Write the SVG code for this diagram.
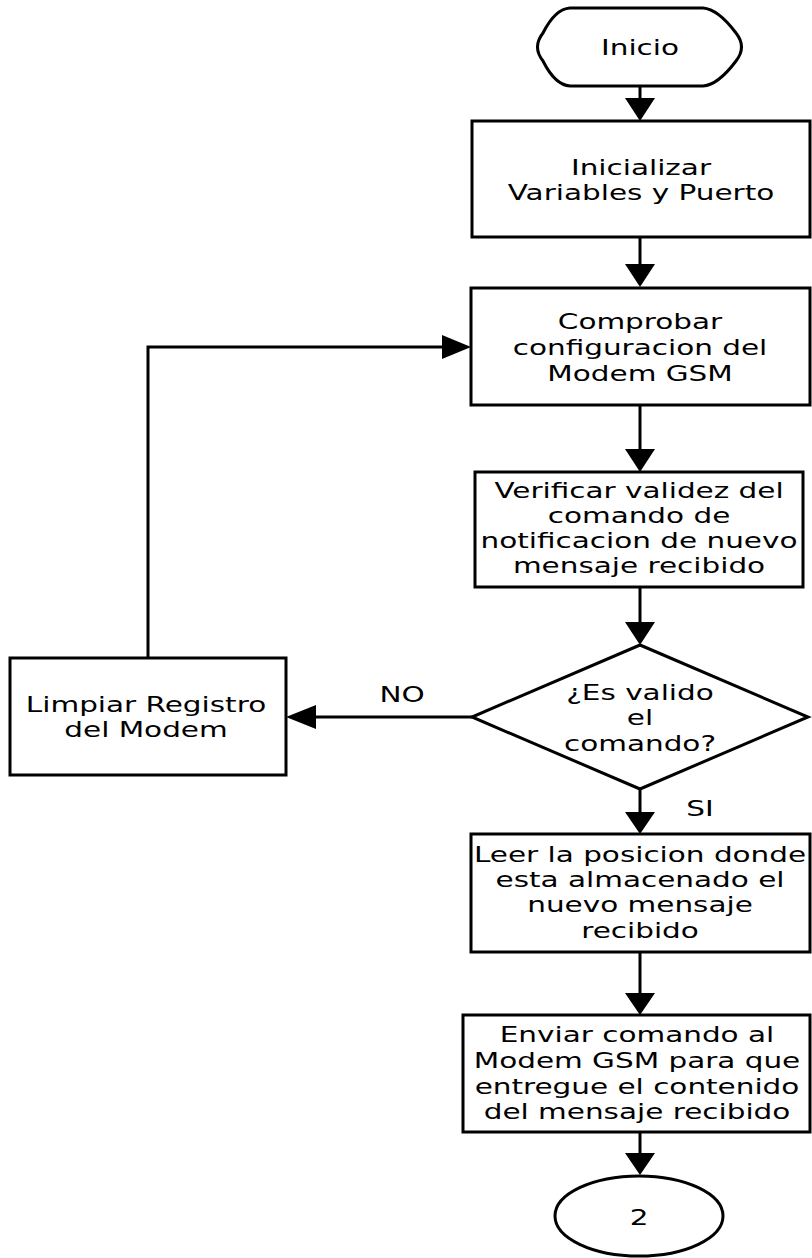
<svg xmlns="http://www.w3.org/2000/svg" width="812" height="1258" viewBox="0 0 812 1258">
  <style>
    .shape { fill: #ffffff; stroke: #000000; stroke-width: 3; }
    .wire { fill: none; stroke: #000000; stroke-width: 3; }
    .head { fill: #000000; stroke: none; }
    .lbl { font-family: "DejaVu Sans", "Liberation Sans", sans-serif; font-size: 22px; fill: #000000; text-anchor: middle; }
  </style>
  <rect x="0" y="0" width="812" height="1258" fill="#ffffff"/>

  <!-- connectors -->
  <g id="connectors">
    <!-- Inicio -> Inicializar -->
    <line class="wire" x1="640" y1="86" x2="640" y2="100"/>
    <polygon class="head" points="625,98 655,98 640,121"/>
    <!-- Inicializar -> Comprobar -->
    <line class="wire" x1="640" y1="237" x2="640" y2="266"/>
    <polygon class="head" points="625,264 655,264 640,287"/>
    <!-- Comprobar -> Verificar -->
    <line class="wire" x1="640" y1="405" x2="640" y2="451"/>
    <polygon class="head" points="625,449 655,449 640,472"/>
    <!-- Verificar -> decision -->
    <line class="wire" x1="640" y1="587" x2="640" y2="625"/>
    <polygon class="head" points="625,622 655,622 640,645"/>
    <!-- decision -> Limpiar (NO) -->
    <line class="wire" x1="472" y1="717" x2="312" y2="717"/>
    <polygon class="head" points="316,705 316,729 286,717"/>
    <!-- Limpiar -> Comprobar (loop back) -->
    <polyline class="wire" points="148,658 148,347 446,347"/>
    <polygon class="head" points="442,335 442,359 471,347"/>
    <!-- decision -> Leer (SI) -->
    <line class="wire" x1="640" y1="789" x2="640" y2="814"/>
    <polygon class="head" points="625,812 655,812 640,834"/>
    <!-- Leer -> Enviar -->
    <line class="wire" x1="640" y1="952" x2="640" y2="995"/>
    <polygon class="head" points="625,993 655,993 640,1015"/>
    <!-- Enviar -> connector 2 -->
    <line class="wire" x1="640" y1="1132" x2="640" y2="1155"/>
    <polygon class="head" points="625,1153 655,1153 640,1175"/>

    <text class="lbl" transform="translate(402,702) scale(1.34,1)">NO</text>
    <text class="lbl" transform="translate(700,816) scale(1.34,1)">SI</text>
  </g>

  <!-- start terminal -->
  <g id="inicio">
    <path class="shape" d="M570,8 H703 Q718,9 736,33 Q747,47 736,61 Q718,85 703,86 H570 Q555,85 543,61 Q532,47 543,33 Q555,9 570,8 Z"/>
    <text class="lbl" transform="translate(640,55) scale(1.34,1)">Inicio</text>
  </g>

  <g id="inicializar">
    <rect class="shape" x="472" y="121" width="338" height="116"/>
    <text class="lbl" transform="translate(641,175) scale(1.34,1)">Inicializar</text>
    <text class="lbl" transform="translate(641,200) scale(1.34,1)">Variables y Puerto</text>
  </g>

  <g id="comprobar">
    <rect class="shape" x="471" y="288" width="339" height="117"/>
    <text class="lbl" transform="translate(640,329) scale(1.34,1)">Comprobar</text>
    <text class="lbl" transform="translate(640,355) scale(1.34,1)">configuracion del</text>
    <text class="lbl" transform="translate(640,381) scale(1.34,1)">Modem GSM</text>
  </g>

  <g id="verificar">
    <rect class="shape" x="475" y="472" width="328" height="115"/>
    <text class="lbl" transform="translate(639,498) scale(1.34,1)">Verificar validez del</text>
    <text class="lbl" transform="translate(639,523) scale(1.34,1)">comando de</text>
    <text class="lbl" transform="translate(639,548) scale(1.34,1)">notificacion de nuevo</text>
    <text class="lbl" transform="translate(639,573) scale(1.34,1)">mensaje recibido</text>
  </g>

  <g id="decision">
    <polygon class="shape" points="640,645 808,717 640,789 472,717"/>
    <text class="lbl" transform="translate(640,700) scale(1.34,1)">¿Es valido</text>
    <text class="lbl" transform="translate(640,725) scale(1.34,1)">el</text>
    <text class="lbl" transform="translate(640,751) scale(1.34,1)">comando?</text>
  </g>

  <g id="limpiar">
    <rect class="shape" x="10" y="658" width="276" height="117"/>
    <text class="lbl" transform="translate(146,712) scale(1.34,1)">Limpiar Registro</text>
    <text class="lbl" transform="translate(146,737) scale(1.34,1)">del Modem</text>
  </g>

  <g id="leer">
    <rect class="shape" x="471" y="834" width="339" height="118"/>
    <text class="lbl" transform="translate(640,862) scale(1.34,1)">Leer la posicion donde</text>
    <text class="lbl" transform="translate(640,887) scale(1.34,1)">esta almacenado el</text>
    <text class="lbl" transform="translate(640,912) scale(1.34,1)">nuevo mensaje</text>
    <text class="lbl" transform="translate(640,938) scale(1.34,1)">recibido</text>
  </g>

  <g id="enviar">
    <rect class="shape" x="463" y="1015" width="347" height="117"/>
    <text class="lbl" transform="translate(637,1042) scale(1.34,1)">Enviar comando al</text>
    <text class="lbl" transform="translate(637,1068) scale(1.34,1)">Modem GSM para que</text>
    <text class="lbl" transform="translate(637,1094) scale(1.34,1)">entregue el contenido</text>
    <text class="lbl" transform="translate(637,1119) scale(1.34,1)">del mensaje recibido</text>
  </g>

  <!-- off-page connector -->
  <g id="conector2">
    <ellipse class="shape" cx="639" cy="1216" rx="84" ry="40"/>
    <text class="lbl" transform="translate(639,1225) scale(1.34,1)">2</text>
  </g>
</svg>
